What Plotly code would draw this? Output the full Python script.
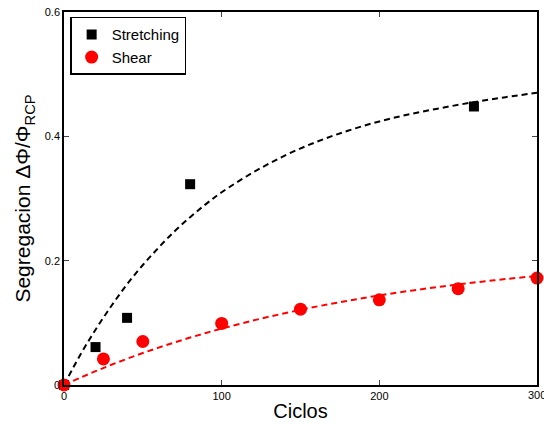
import plotly.graph_objects as go

# Measured data
stretch_x = [0, 20, 40, 80, 260]
stretch_y = [0.0, 0.061, 0.108, 0.323, 0.448]
shear_x = [0, 25, 50, 100, 150, 200, 250, 300]
shear_y = [0.0, 0.042, 0.070, 0.099, 0.122, 0.137, 0.155, 0.172]

# Fitted curves
fit_x = [0, 10, 20, 30, 40, 50, 60, 70, 80, 90, 100, 120, 140, 160, 180, 200, 220, 240, 260, 280, 300]
fit_stretch = [0.0, 0.047, 0.089, 0.127, 0.162, 0.193, 0.221, 0.247, 0.270, 0.291, 0.310,
               0.342, 0.369, 0.391, 0.409, 0.424, 0.436, 0.446, 0.455, 0.463, 0.470]
fit_shear = [0.0, 0.0114, 0.0222, 0.0325, 0.0422, 0.0514, 0.0601, 0.0684, 0.0763, 0.0837, 0.0908,
             0.1038, 0.1155, 0.1261, 0.1355, 0.1441, 0.1517, 0.1586, 0.1648, 0.1704, 0.1754]

x_ticks = [0, 100, 200, 300]
y_ticks = [0, 0.2, 0.4, 0.6]
y_ticklabels = ["0", "0.2", "0.4", "0.6"]

FONT = "Liberation Sans, Arial"

fig = go.Figure()
fig.add_trace(go.Scatter(x=fit_x, y=fit_stretch, mode="lines", showlegend=False,
                         line=dict(color="black", width=2, dash="6px,4px", shape="spline")))
fig.add_trace(go.Scatter(x=fit_x, y=fit_shear, mode="lines", showlegend=False,
                         line=dict(color="red", width=2, dash="6px,4px", shape="spline")))
fig.add_trace(go.Scatter(x=stretch_x, y=stretch_y, mode="markers", name="Stretching",
                         marker=dict(symbol="square", size=10, color="black"),
                         cliponaxis=False))
fig.add_trace(go.Scatter(x=shear_x, y=shear_y, mode="markers", name="Shear",
                         marker=dict(symbol="circle", size=13, color="red"),
                         cliponaxis=False))

axis_common = dict(showgrid=False, zeroline=False, showline=True, linecolor="black",
                   linewidth=1.5, mirror="ticks", ticks="inside", ticklen=5,
                   tickcolor="#444", tickfont=dict(family=FONT, size=11, color="black"))

fig.update_xaxes(range=[0, 300], tickvals=x_ticks[:-1], ticktext=[str(v) for v in x_ticks[:-1]],
                 title=dict(text="Ciclos", font=dict(family=FONT, size=20, color="black"),
                            standoff=3),
                 **axis_common)
fig.update_yaxes(range=[0, 0.6], tickvals=y_ticks, ticktext=y_ticklabels,
                 title=dict(text="Segregacion ΔΦ/Φ<sub>RCP</sub>",
                            font=dict(family=FONT, size=21, color="black"),
                            standoff=8),
                 **axis_common)

# last x tick label (300) runs past the right edge of the figure, as in the reference
fig.add_annotation(x=x_ticks[-1], xref="x", y=0, yref="paper", yanchor="top", xanchor="center",
                   yshift=-2, text=str(x_ticks[-1]), showarrow=False,
                   font=dict(family=FONT, size=11, color="black"))

fig.update_layout(
    width=544, height=424,
    margin=dict(l=64, r=5, t=12, b=37),
    plot_bgcolor="white", paper_bgcolor="white",
    legend=dict(x=0.013, y=0.987, xanchor="left", yanchor="top",
                bgcolor="white", bordercolor="black", borderwidth=1.5,
                font=dict(family=FONT, size=15, color="black"),
                tracegroupgap=0, itemwidth=30),
)

fig.write_html("out.html")
